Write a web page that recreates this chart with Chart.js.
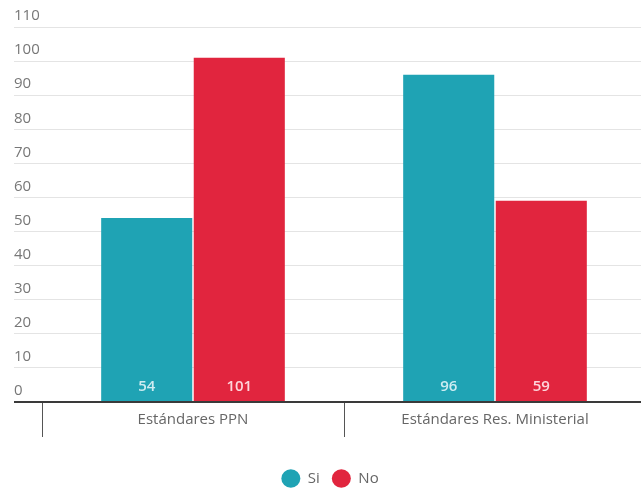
<!DOCTYPE html>
<html>
<head>
<meta charset="utf-8">
<script src="https://cdn.jsdelivr.net/npm/chart.js@4/dist/chart.umd.min.js"></script>
<style>
html,body{margin:0;padding:0;background:#fff;overflow:hidden;}
#wrap{width:646px;height:490px;position:relative;}
</style>
</head>
<body>
<div id="wrap"><canvas id="c"></canvas></div>
<script>
const categories = ["Estándares PPN", "Estándares Res. Ministerial"];
const siValues = [54, 96];
const noValues = [101, 59];
const seriesNames = ["Si", "No"];
const yMin = 0, yMax = 110, yStep = 10;

const FONT = "'Open Sans', 'DejaVu Sans', sans-serif";

const barLabels = {
  id: 'barLabels',
  afterDatasetsDraw(chart) {
    const ctx = chart.ctx;
    ctx.save();
    ctx.font = "600 15px " + FONT;
    ctx.textAlign = 'center';
    ctx.textBaseline = 'middle';
    chart.data.datasets.forEach((ds, di) => {
      const meta = chart.getDatasetMeta(di);
      meta.data.forEach((el, i) => {
        ctx.fillStyle = di === 0 ? 'rgba(215,240,244,0.95)' : 'rgba(255,222,228,0.95)';
        ctx.fillText(String(ds.data[i]), el.x, el.base - 14);
      });
    });
    ctx.restore();
  }
};

new Chart(document.getElementById('c'), {
  type: 'bar',
  data: {
    labels: categories,
    datasets: [
      { label: seriesNames[0], data: siValues, backgroundColor: '#1fa3b4', categoryPercentage: 0.613, barPercentage: 0.984 },
      { label: seriesNames[1], data: noValues, backgroundColor: '#e1253e', categoryPercentage: 0.613, barPercentage: 0.984 }
    ]
  },
  options: {
    responsive: true,
    maintainAspectRatio: false,
    animation: false,
    layout: { padding: { top: 27, left: 14, right: 0, bottom: -6 } },
    plugins: {
      tooltip: { enabled: false },
      legend: {
        position: 'bottom',
        labels: {
          usePointStyle: true,
          pointStyle: 'circle',
          pointStyleWidth: 19,
          boxHeight: 13,
          padding: 12,
          color: '#666',
          font: { family: FONT, size: 15 }
        }
      }
    },
    scales: {
      x: {
        border: { display: false },
        grid: {
          offset: true,
          drawOnChartArea: false,
          drawTicks: true,
          tickLength: 35,
          tickColor: '#555',
          tickWidth: 1
        },
        ticks: {
          color: '#666',
          padding: -26,
          font: { family: FONT, size: 15 }
        },
        afterFit(scale) { scale.height = 57; }
      },
      y: {
        min: yMin,
        max: yMax,
        border: { display: false },
        grid: {
          drawTicks: true,
          tickLength: 28,
          color: (c) => c.tick && c.tick.value === 0 ? '#3a3a3a' : '#e4e4e4',
          tickColor: (c) => c.tick && c.tick.value === 0 ? '#3a3a3a' : '#e4e4e4',
          lineWidth: (c) => c.tick && c.tick.value === 0 ? 2 : 1,
          tickWidth: (c) => c.tick && c.tick.value === 0 ? 2 : 1
        },
        ticks: {
          stepSize: yStep,
          mirror: true,
          padding: -28,
          labelOffset: -11,
          color: '#777',
          font: { family: FONT, size: 15 }
        },
        afterFit(scale) { scale.width = 28; }
      }
    }
  },
  plugins: [barLabels]
});
</script>
</body>
</html>
